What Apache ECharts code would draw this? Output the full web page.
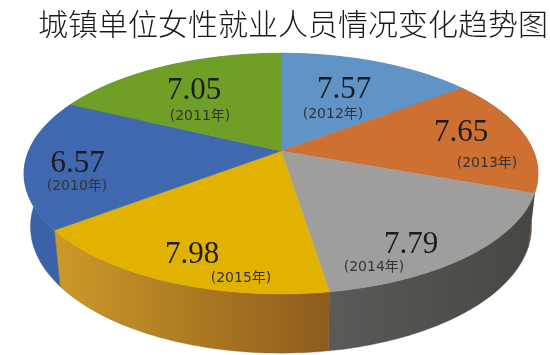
<!DOCTYPE html>
<html>
<head>
<meta charset="utf-8">
<style>html,body{margin:0;padding:0;background:#fff}#c{width:550px;height:355px}</style>
<script src="https://cdn.jsdelivr.net/npm/echarts@6/dist/echarts.min.js"></script>
</head>
<body>
<div id="c"></div>
<script>
var chartTitle = '城镇单位女性就业人员情况变化趋势图';
var years = ['2010', '2011', '2012', '2013', '2014', '2015'];
var values = [6.57, 7.05, 7.57, 7.65, 7.79, 7.98];
var valueLabels = ['6.57', '7.05', '7.57', '7.65', '7.79', '7.98'];
// Slices run clockwise from the top in year order, sized by value.
var topColors = ['#6093c6', '#cf7033', '#a09e9c', '#e2b200', '#3f68ae', '#709f28'];
var sideFrom = ['#4f7aa6', '#8a5f3f', '#5c5a58', '#cc9a28', '#3a61a6', '#5c8421'];
var sideTo = ['#4f7aa6', '#6a5446', '#474643', '#8d5b1d', '#3c63a8', '#5c8421'];
// Printed label anchors, by year: [value x, value y, year x, year y]
var labelAnchors = [
  [77.5, 164, 77, 186],
  [194, 91, 200, 116],
  [344, 90, 333, 114],
  [461, 133, 487, 163],
  [411, 245, 374, 267],
  [192, 255, 241, 278]
];

// Perspective view of the disc
var CX = 281, APEX_Y = 151, K = 0.188, C = 252.4, B = 116.1;
var BOTTOM_Y = 203, BOTTOM_SX = 0.975, BOTTOM_SY = 1.05;
function project(deg, bottom) {
  var r = deg * Math.PI / 180, u = Math.sin(r), v = -Math.cos(r), w = 1 - K * v;
  return bottom
    ? [CX + C * BOTTOM_SX * u / w, BOTTOM_Y + B * BOTTOM_SY * v / w]
    : [CX + C * u / w, APEX_Y + B * v / w];
}
var total = values.reduce(function (a, b) { return a + b; }, 0);
function sliceAngles(i) {
  var before = 0;
  for (var j = 0; j < i; j++) before += values[j];
  return [before / total * 360, (before + values[i]) / total * 360];
}
function arc(a0, a1, bottom) {
  var pts = [], n = Math.ceil(a1 - a0);
  for (var s = 0; s <= n; s++) pts.push(project(a0 + (a1 - a0) * s / n, bottom));
  return pts;
}
function renderSide(params) {
  var i = params.dataIndex, a = sliceAngles(i);
  var pts = arc(a[0], a[1], false).concat(arc(a[0], a[1], true).reverse());
  var fill = new echarts.graphic.LinearGradient(0, 0, 1, 0, [
    { offset: 0, color: sideFrom[i] }, { offset: 1, color: sideTo[i] }
  ]);
  return { type: 'polygon', shape: { points: pts }, style: { fill: fill, stroke: sideTo[i], lineWidth: 0.4 } };
}
function renderTop(params) {
  var i = params.dataIndex, a = sliceAngles(i);
  var pts = [[CX, APEX_Y]].concat(arc(a[0], a[1], false));
  return { type: 'polygon', shape: { points: pts }, style: { fill: topColors[i], stroke: topColors[i], lineWidth: 0.5 } };
}
function renderLabels(params) {
  var i = params.dataIndex, p = labelAnchors[i];
  return { type: 'group', children: [
    { type: 'text', style: { x: p[0], y: p[1], text: valueLabels[i], align: 'center', verticalAlign: 'middle',
      font: '31px "Liberation Serif"', fill: '#1c1c1c' } },
    { type: 'text', style: { x: p[2], y: p[3], text: '(' + years[i] + '年)', align: 'center', verticalAlign: 'middle',
      font: '14px "DejaVu Sans","Noto Sans CJK SC"', fill: '#333333' } }
  ] };
}
var chart = echarts.init(document.getElementById('c'), null, { renderer: 'canvas', width: 550, height: 355 });
chart.setOption({
  animation: false,
  backgroundColor: '#ffffff',
  title: {
    text: chartTitle, left: 38, top: 6, padding: 0,
    textStyle: { fontFamily: '"Noto Sans CJK SC"', fontWeight: 300, fontSize: 30, color: '#1a1a1a', lineHeight: 36 }
  },
  series: [
    { type: 'custom', coordinateSystem: 'none', z: 1, data: values, renderItem: renderSide, silent: true },
    { type: 'custom', coordinateSystem: 'none', z: 2, data: values, renderItem: renderTop, silent: true },
    { type: 'custom', coordinateSystem: 'none', z: 3, data: values, renderItem: renderLabels, silent: true }
  ]
});
</script>
</body>
</html>
